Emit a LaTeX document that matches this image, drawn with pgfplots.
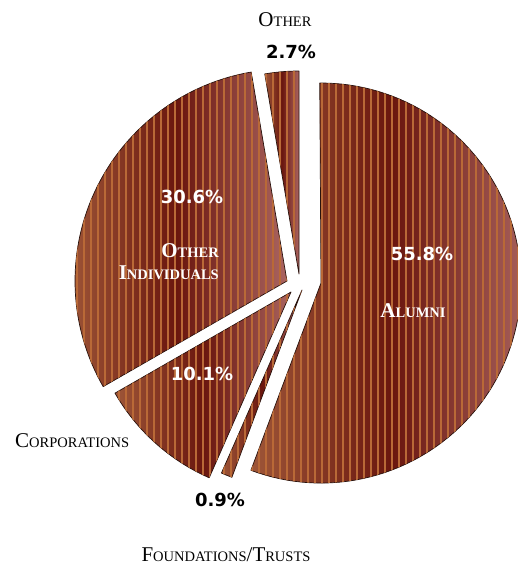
\documentclass[border=0pt]{standalone}
\usepackage{fontspec}
\usepackage{pgfplots}
\usepackage{pgfplotstable}
\pgfplotsset{compat=1.18}
\usetikzlibrary{patterns.meta}
\setmainfont{Liberation Serif}
\newfontfamily\pctfont{DejaVu Sans}

% slices, counter-clockwise from 12 o'clock
% pct = share, ax ay = apex of the exploded slice (pixels from top left), r = radius
\pgfplotstableread{
name pct ax ay r
Other 2.7 299 274 203
OtherInd 30.6 287 281 212
Corp 10.1 291 292 203
Found 0.9 302 290 200
Alumni 55.8 321 283 200
}\slices

\definecolor{edgebrown}{RGB}{158,86,56}
\definecolor{midbrown}{RGB}{106,22,14}
\definecolor{rightbrown}{RGB}{170,100,96}
\definecolor{stripe}{RGB}{185,105,55}
\definecolor{outline}{RGB}{40,18,12}

\tikzset{slice/.style={left color=edgebrown, right color=rightbrown, middle color=midbrown,
  draw=outline, line width=0.7pt, line join=round,
  postaction={pattern={Lines[angle=90,distance=7pt,line width=1.8pt]}, pattern color=stripe, fill opacity=0.3}}}

\newcommand\SC[2]{{\fontsize{21}{21}\selectfont #1}{\fontsize{14.5}{14.5}\selectfont #2}}
\newcommand\PCT{\pctfont\bfseries\fontsize{18}{18}\selectfont}

\begin{document}
\begin{tikzpicture}
\begin{axis}[scale only axis, width=518pt, height=566pt,
  xmin=0, xmax=518, ymin=0, ymax=566, y dir=reverse, hide axis]
\xdef\cum{90}
\foreach \i in {0,...,4}{
  \pgfplotstablegetelem{\i}{pct}\of\slices \let\p\pgfplotsretval
  \pgfplotstablegetelem{\i}{ax}\of\slices \let\ax\pgfplotsretval
  \pgfplotstablegetelem{\i}{ay}\of\slices \let\ay\pgfplotsretval
  \pgfplotstablegetelem{\i}{r}\of\slices \let\rr\pgfplotsretval
  \pgfmathsetmacro{\a}{\cum}
  \pgfmathsetmacro{\b}{\cum+3.6*\p}
  \edef\tmp{\noexpand\path[slice] (axis cs:\ax,\ay) -- ++(\a:\rr pt)
     arc[start angle=\a, end angle=\b, radius=\rr pt] -- cycle;}
  \tmp
  \xdef\cum{\b}
}
% labels
\node at (axis cs:285,20) {\SC{O}{THER}};
\node at (axis cs:291,52) {\PCT 2.7\%};
\node[white] at (axis cs:422,254) {\PCT 55.8\%};
\node[white, font=\bfseries] at (axis cs:413,311) {\SC{A}{LUMNI}};
\node[white] at (axis cs:192,197) {\PCT 30.6\%};
\node[white, font=\bfseries, anchor=base east, inner sep=0pt] at (axis cs:219,257) {\SC{O}{THER}};
\node[white, font=\bfseries, anchor=base east, inner sep=0pt] at (axis cs:219,279) {\SC{I}{NDIVIDUALS}};
\node[white] at (axis cs:202,374) {\PCT 10.1\%};
\node[anchor=base west, inner sep=0pt] at (axis cs:15,447) {\SC{C}{ORPORATIONS}};
\node at (axis cs:220,500) {\PCT 0.9\%};
\node[anchor=base, inner sep=0pt] at (axis cs:226,561) {\SC{F}{OUNDATIONS}\SC{/T}{RUSTS}};
\end{axis}
\pgfresetboundingbox
\path[use as bounding box] (current axis.south west) rectangle (current axis.north east);
\end{tikzpicture}
\end{document}
